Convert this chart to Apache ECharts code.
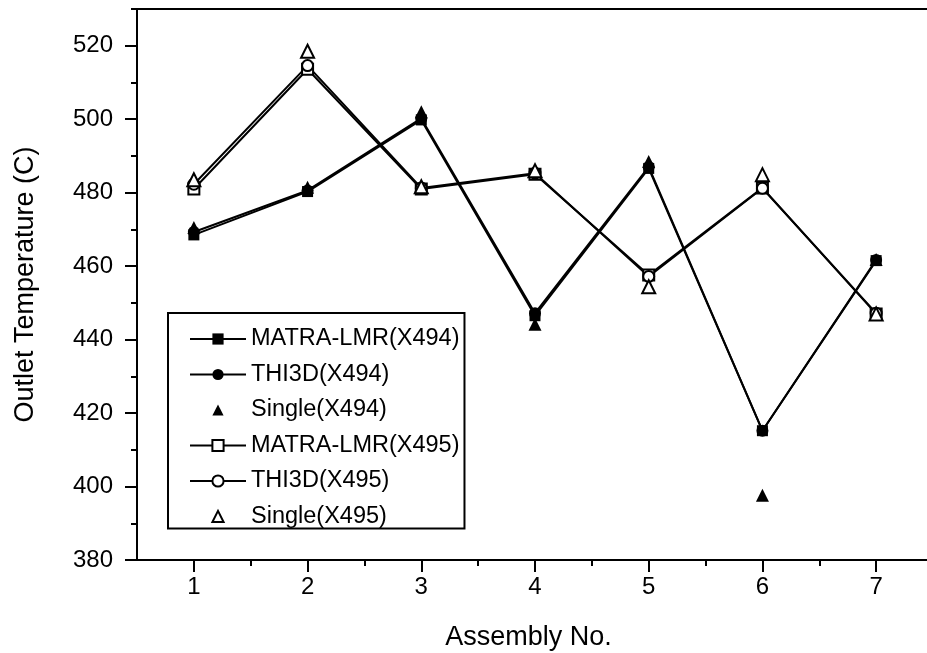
<!DOCTYPE html>
<html>
<head>
<meta charset="utf-8">
<script src="https://cdn.jsdelivr.net/npm/echarts@6/dist/echarts.min.js"></script>
<style>
html,body{margin:0;padding:0;background:#fff;}
#c{width:927px;height:653px;}
</style>
</head>
<body>
<div id="c"></div>
<script>
const assemblies = [1, 2, 3, 4, 5, 6, 7];
const matra494  = [468.5, 480.3, 499.8, 446.5, 486.6, 415.2, 461.5];
const thi3d494  = [469.3, 480.6, 500.2, 447.2, 487.0, 415.2, 461.7];
const single494 = [470.5, 481.5, 502.0, 444.2, 488.5, 397.6, 461.8];
const matra495  = [481.0, 513.6, 481.0, 485.0, 457.6, 481.3, 447.0];
const thi3d495  = [482.3, 514.6, 481.3, 485.3, 457.2, 481.2, 447.2];
const single495 = [483.5, 518.5, 481.6, 486.0, 454.4, 484.9, 447.0];
const xMajorTicks = [1, 2, 3, 4, 5, 6, 7];
const xMinorTicks = [1.5, 2.5, 3.5, 4.5, 5.5, 6.5];
const yMajorTicks = [380, 400, 420, 440, 460, 480, 500, 520];
const yMinorTicks = [390, 410, 430, 450, 470, 490, 510, 530];

const pairs = arr => assemblies.map((a, i) => [a, arr[i]]);
const FONT = 'Liberation Sans';

const chart = echarts.init(document.getElementById('c'), null, {renderer: 'canvas'});

function lineSeries(name, data, symbol, size) {
  return {
    name, type: 'line', data: pairs(data), symbol, symbolSize: size,
    lineStyle: {color: '#000', width: 2},
    itemStyle: {color: '#000', borderColor: '#000', opacity: 1, borderWidth: symbol.indexOf('empty') === 0 ? 2 : 0},
    emphasis: {disabled: true}, animation: false, z: 3
  };
}
function pointSeries(name, data, symbol, size) {
  return {
    name, type: 'line', data: pairs(data), symbol, symbolSize: size, showSymbol: true,
    lineStyle: {color: '#000', width: 0, opacity: 0},
    itemStyle: {color: '#000', borderColor: '#000', opacity: 1, borderWidth: symbol.indexOf('empty') === 0 ? 2 : 0},
    emphasis: {disabled: true}, animation: false, z: 4
  };
}

const axisBase = {type: 'value', gridIndex: 0, splitLine: {show: false}};

const option = {
  backgroundColor: '#fff',
  animation: false,
  grid: {left: 137, top: 9, width: 796, height: 551, outerBoundsMode: 'none', containLabel: false},
  legend: {
    orient: 'vertical', left: 168, top: 313,
    padding: [14, 5, 0, 21],
    borderColor: '#000', borderWidth: 2,
    itemWidth: 56, itemHeight: 14, itemGap: 11.5,
    textStyle: {fontFamily: FONT, fontSize: 23.5, color: '#000', lineHeight: 24},
    data: ['MATRA-LMR(X494)', 'THI3D(X494)', 'Single(X494)', 'MATRA-LMR(X495)', 'THI3D(X495)', 'Single(X495)']
  },
  xAxis: [Object.assign({}, axisBase, {
    min: 0.5, max: 7.5, position: 'bottom',
    name: 'Assembly No.', nameLocation: 'middle', nameGap: 64,
    nameTextStyle: {fontFamily: FONT, fontSize: 27, color: '#000', padding: [0, 13, 0, 0]},
    axisLine: {show: true, lineStyle: {color: '#000', width: 2}},
    axisTick: {show: true, inside: false, length: 12, customValues: xMajorTicks, lineStyle: {color: '#000', width: 2}},
    axisLabel: {show: true, margin: 15, customValues: xMajorTicks, fontFamily: FONT, fontSize: 24, color: '#000'}
  }), Object.assign({}, axisBase, {
    min: 0.5, max: 7.5, position: 'bottom',
    axisLine: {show: false},
    axisTick: {show: true, length: 6, customValues: xMinorTicks, lineStyle: {color: '#000', width: 2}},
    axisLabel: {show: false}
  }), Object.assign({}, axisBase, {
    min: 0.5, max: 7.5, position: 'top',
    axisLine: {show: true, lineStyle: {color: '#000', width: 2}},
    axisTick: {show: false},
    axisLabel: {show: false}
  })],
  yAxis: [Object.assign({}, axisBase, {
    min: 380, max: 530, position: 'left',
    name: 'Outlet Temperature (C)', nameLocation: 'middle', nameGap: 98,
    nameTextStyle: {fontFamily: FONT, fontSize: 27, color: '#000'},
    axisLine: {show: true, lineStyle: {color: '#000', width: 2}},
    axisTick: {show: true, length: 12, customValues: yMajorTicks, lineStyle: {color: '#000', width: 2}},
    axisLabel: {show: true, margin: 24, customValues: yMajorTicks, fontFamily: FONT, fontSize: 24, color: '#000'}
  }), Object.assign({}, axisBase, {
    min: 380, max: 530, position: 'left',
    axisLine: {show: false},
    axisTick: {show: true, length: 6, customValues: yMinorTicks, lineStyle: {color: '#000', width: 2}},
    axisLabel: {show: false}
  })],
  series: [
    lineSeries('MATRA-LMR(X494)', matra494, 'rect', 11),
    lineSeries('THI3D(X494)', thi3d494, 'circle', 12),
    pointSeries('Single(X494)', single494, 'triangle', 13),
    lineSeries('MATRA-LMR(X495)', matra495, 'emptyRect', 11),
    lineSeries('THI3D(X495)', thi3d495, 'emptyCircle', 11),
    pointSeries('Single(X495)', single495, 'emptyTriangle', 13)
  ]
};
chart.setOption(option);
</script>
</body>
</html>
